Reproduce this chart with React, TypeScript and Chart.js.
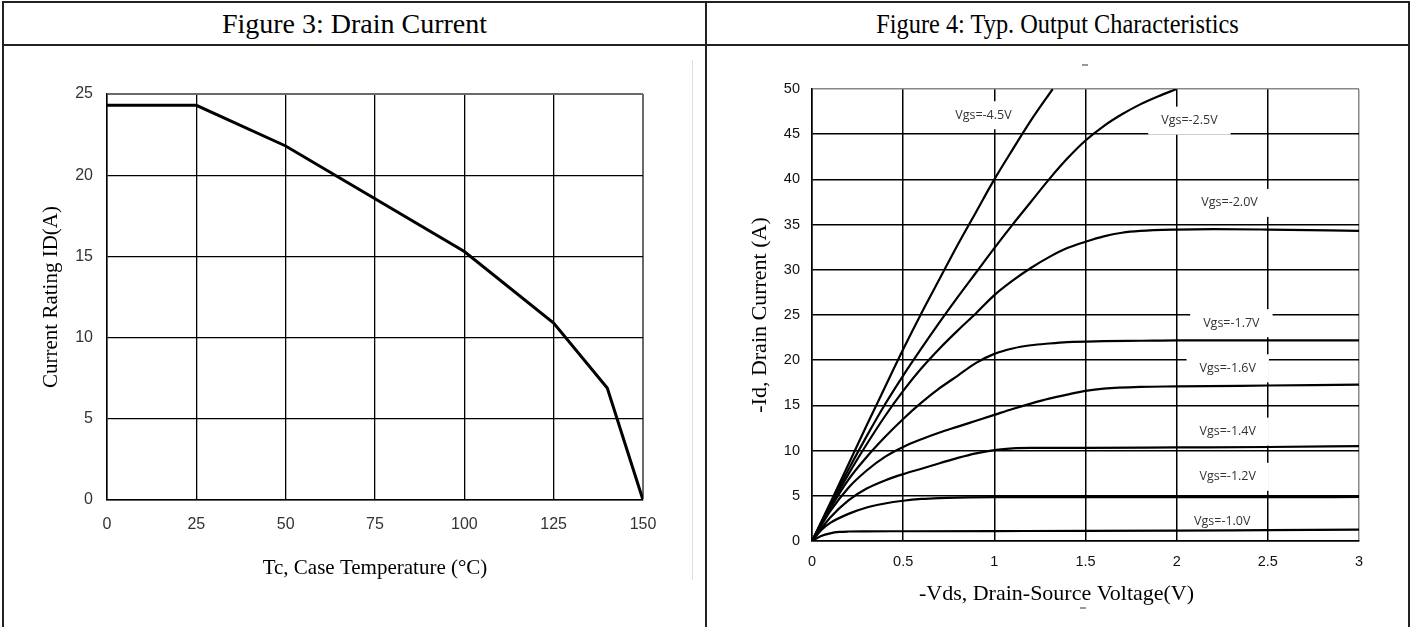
import React, { useEffect, useRef } from 'react';
import { Chart, registerables } from 'chart.js';

Chart.register(...registerables);

// ---------- Figure 3: Drain Current ----------
const caseTempC = [0, 25, 50, 100, 125, 140, 150];
const currentRatingA = [24.3, 24.3, 21.8, 15.3, 10.9, 6.9, 0];

// ---------- Figure 4: Typ. Output Characteristics ----------
const vds45 = [0, 0.1, 0.2, 0.3, 0.4, 0.5, 0.6, 0.7, 0.8, 0.9, 1.0, 1.1, 1.2, 1.32];
const id45 = [0, 4.2, 8.5, 12.8, 17.0, 21.2, 25.2, 29.0, 32.8, 36.4, 40.0, 43.3, 46.5, 50.0];

const vds25 = [0, 0.1, 0.2, 0.3, 0.4, 0.5, 0.6, 0.7, 0.8, 0.9, 1.0, 1.1, 1.2, 1.3, 1.4, 1.5, 1.6, 1.7, 1.8, 1.9, 2.0];
const id25 = [0, 4.0, 7.9, 11.6, 15.1, 18.3, 21.3, 24.2, 27.0, 29.7, 32.4, 35.0, 37.5, 40.0, 42.3, 44.3, 45.9, 47.2, 48.3, 49.2, 50.0];

const vds20 = [0, 0.1, 0.2, 0.3, 0.4, 0.5, 0.6, 0.7, 0.8, 0.9, 1.0, 1.1, 1.2, 1.3, 1.4, 1.5, 1.6, 1.7, 1.8, 2.0, 2.2, 2.5, 3.0];
const id20 = [0, 3.8, 7.4, 10.7, 13.8, 16.6, 19.1, 21.3, 23.3, 25.2, 27.2, 28.8, 30.2, 31.4, 32.4, 33.1, 33.7, 34.1, 34.3, 34.45, 34.5, 34.45, 34.3];

const vds17 = [0, 0.1, 0.2, 0.3, 0.4, 0.5, 0.6, 0.7, 0.8, 0.9, 1.0, 1.1, 1.2, 1.3, 1.4, 1.6, 1.8, 2.0, 2.5, 3.0];
const id17 = [0, 3.6, 6.8, 9.3, 11.5, 13.5, 15.3, 16.9, 18.3, 19.7, 20.7, 21.3, 21.65, 21.85, 22.0, 22.1, 22.15, 22.2, 22.2, 22.2];

const vds16 = [0, 0.1, 0.2, 0.3, 0.4, 0.5, 0.6, 0.7, 0.8, 0.9, 1.0, 1.1, 1.2, 1.3, 1.4, 1.5, 1.6, 1.8, 2.0, 2.5, 3.0];
const id16 = [0, 3.3, 5.9, 7.8, 9.3, 10.4, 11.25, 12.0, 12.65, 13.3, 13.95, 14.6, 15.2, 15.75, 16.2, 16.6, 16.85, 17.05, 17.1, 17.2, 17.3];

const vds14 = [0, 0.1, 0.2, 0.3, 0.4, 0.5, 0.6, 0.7, 0.8, 0.9, 1.0, 1.1, 1.2, 1.5, 2.0, 2.5, 3.0];
const id14 = [0, 2.6, 4.5, 5.8, 6.7, 7.4, 8.0, 8.6, 9.2, 9.7, 10.05, 10.25, 10.3, 10.3, 10.35, 10.4, 10.5];

const vds12 = [0, 0.05, 0.1, 0.2, 0.3, 0.4, 0.5, 0.6, 0.7, 0.8, 1.0, 1.5, 2.0, 2.5, 3.0];
const id12 = [0, 1.2, 2.0, 3.0, 3.7, 4.15, 4.45, 4.65, 4.75, 4.8, 4.85, 4.85, 4.85, 4.85, 4.87];

const vds10 = [0, 0.05, 0.1, 0.15, 0.2, 0.3, 0.5, 1.0, 1.5, 2.0, 2.5, 3.0];
const id10 = [0, 0.55, 0.85, 1.0, 1.05, 1.07, 1.08, 1.1, 1.12, 1.15, 1.2, 1.25];

const vgsLabels = ['Vgs=-4.5V', 'Vgs=-2.5V', 'Vgs=-2.0V', 'Vgs=-1.7V', 'Vgs=-1.6V', 'Vgs=-1.4V', 'Vgs=-1.2V', 'Vgs=-1.0V'];
const vgsLabelVds = [0.94, 2.07, 2.29, 2.30, 2.28, 2.28, 2.28, 2.25];
const vgsLabelId = [47.1, 46.5, 37.4, 24.1, 19.1, 12.1, 7.1, 2.2];

const FONT_SANS = '"Liberation Sans", Arial, Helvetica, sans-serif';
const FONT_SERIF = '"Liberation Serif", "Times New Roman", Times, serif';
const FONT_LABEL = '"Open Sans", "Noto Sans", sans-serif';

const pts = (xs: number[], ys: number[]) => xs.map((x, i) => ({ x, y: ys[i] }));

function DrainCurrentChart() {
  const ref = useRef<HTMLCanvasElement>(null);
  useEffect(() => {
    const chart = new Chart(ref.current as HTMLCanvasElement, {
      type: 'line',
      data: {
        datasets: [
          {
            data: pts(caseTempC, currentRatingA),
            borderColor: '#000',
            borderWidth: 3,
            pointRadius: 0,
            tension: 0,
          },
        ],
      },
      options: {
        responsive: false,
        animation: false,
        events: [],
        layout: { padding: { top: 47, right: 60, left: 0, bottom: 0 } },
        plugins: { legend: { display: false }, tooltip: { enabled: false } },
        scales: {
          x: {
            type: 'linear',
            min: 0,
            max: 150,
            ticks: { stepSize: 25, padding: 15, color: '#333', font: { family: FONT_SANS, size: 16 } },
            grid: {
              drawTicks: false,
              color: (c: any) => (c.tick && c.tick.value === 150 ? '#6a6a6a' : '#000'),
              lineWidth: (c: any) => (c.tick && c.tick.value === 150 ? 2 : 1.3),
            },
            border: { color: '#000', width: 1.5 },
            title: {
              display: true,
              text: 'Tc, Case Temperature (°C)',
              color: '#000',
              font: { family: FONT_SERIF, size: 21 },
              padding: { top: 0, bottom: 44 },
            },
            afterFit: (s: any) => {
              s.height = 125;
            },
          },
          y: {
            type: 'linear',
            min: 0,
            max: 25,
            ticks: { stepSize: 5, padding: 14, color: '#333', font: { family: FONT_SANS, size: 16 } },
            grid: {
              drawTicks: false,
              color: (c: any) => (c.tick && c.tick.value === 25 ? '#6a6a6a' : '#000'),
              lineWidth: (c: any) => (c.tick && c.tick.value === 25 ? 2 : 1.3),
            },
            border: { color: '#000', width: 1.5 },
            title: {
              display: true,
              text: 'Current Rating ID(A)',
              color: '#000',
              font: { family: FONT_SERIF, size: 21 },
              padding: { top: 34, bottom: 0 },
            },
            afterFit: (s: any) => {
              s.width = 102;
            },
          },
        },
      },
    } as any);
    return () => chart.destroy();
  }, []);
  return (
    <canvas
      ref={ref}
      width={698}
      height={578}
      style={{ position: 'absolute', left: 5, top: 47, width: 698, height: 578 }}
    />
  );
}

const vgsLabelPlugin = {
  id: 'vgsLabels',
  beforeDatasetsDraw(chart: any) {
    const { ctx, scales } = chart;
    const xs = scales.x;
    const ys = scales.y;
    ctx.save();
    ctx.font = `12.5px ${FONT_LABEL}`;
    ctx.textAlign = 'center';
    ctx.textBaseline = 'middle';
    vgsLabels.forEach((t, i) => {
      const px = xs.getPixelForValue(vgsLabelVds[i]);
      const py = ys.getPixelForValue(vgsLabelId[i]);
      const w = ctx.measureText(t).width;
      ctx.fillStyle = '#fff';
      ctx.fillRect(px - w / 2 - 13, py - 14, w + 26, 28);
      ctx.fillStyle = '#333';
      ctx.fillText(t, px, py);
    });
    ctx.restore();
  },
};

const vdsTitlePlugin = {
  id: 'vdsTitle',
  afterDraw(chart: any) {
    const { ctx, chartArea } = chart;
    ctx.save();
    ctx.font = `22px ${FONT_SERIF}`;
    ctx.fillStyle = '#000';
    ctx.textAlign = 'center';
    ctx.textBaseline = 'middle';
    ctx.fillText('-Vds, Drain-Source Voltage(V)', (chartArea.left + chartArea.right) / 2 - 29, chartArea.bottom + 53);
    ctx.restore();
  },
};

function OutputCharChart() {
  const ref = useRef<HTMLCanvasElement>(null);
  useEffect(() => {
    const mk = (xs: number[], ys: number[]) => ({
      data: pts(xs, ys),
      borderColor: '#000',
      borderWidth: 2.2,
      pointRadius: 0,
      cubicInterpolationMode: 'monotone',
    });
    const chart = new Chart(ref.current as HTMLCanvasElement, {
      type: 'line',
      data: {
        datasets: [
          mk(vds45, id45),
          mk(vds25, id25),
          mk(vds20, id20),
          mk(vds17, id17),
          mk(vds16, id16),
          mk(vds14, id14),
          mk(vds12, id12),
          mk(vds10, id10),
        ],
      },
      options: {
        responsive: false,
        animation: false,
        events: [],
        layout: { padding: { top: 42, right: 48, left: 0, bottom: 0 } },
        plugins: { legend: { display: false }, tooltip: { enabled: false } },
        scales: {
          x: {
            type: 'linear',
            min: 0,
            max: 3,
            ticks: {
              stepSize: 0.5,
              padding: 12,
              color: '#111',
              font: { family: FONT_SANS, size: 14.5 },
              callback: (v: any) => String(Number(v)),
            },
            grid: {
              drawTicks: false,
              color: (c: any) => (c.tick && c.tick.value === 3 ? '#888' : '#000'),
              lineWidth: 1.5,
            },
            border: { color: '#000', width: 1.5 },
            title: { display: false },
            afterFit: (s: any) => {
              s.height = 84;
            },
          },
          y: {
            type: 'linear',
            min: 0,
            max: 50,
            ticks: { stepSize: 5, padding: 12, color: '#111', font: { family: FONT_SANS, size: 14.5 } },
            grid: {
              drawTicks: false,
              color: (c: any) => (c.tick && c.tick.value === 50 ? '#888' : '#000'),
              lineWidth: 1.5,
            },
            border: { color: '#000', width: 1.5 },
            title: {
              display: true,
              text: '-Id, Drain Current (A)',
              color: '#000',
              font: { family: FONT_SERIF, size: 22 },
              padding: { top: 40, bottom: 0 },
            },
            afterFit: (s: any) => {
              s.width = 105;
            },
          },
        },
      },
      plugins: [vgsLabelPlugin, vdsTitlePlugin],
    } as any);
    return () => chart.destroy();
  }, []);
  return (
    <canvas
      ref={ref}
      width={700}
      height={578}
      style={{ position: 'absolute', left: 707, top: 47, width: 700, height: 578 }}
    />
  );
}

export default function App() {
  const line = (s: React.CSSProperties) => <div style={{ position: 'absolute', background: '#222', ...s }} />;
  const titleStyle: React.CSSProperties = {
    position: 'absolute',
    top: 3,
    height: 42,
    lineHeight: '42px',
    textAlign: 'center',
    fontFamily: FONT_SERIF,
    fontSize: 28,
    color: '#000',
    whiteSpace: 'nowrap',
  };
  return (
    <div
      style={{
        position: 'absolute',
        left: 0,
        top: 0,
        width: 1413,
        height: 627,
        background: '#fff',
        overflow: 'hidden',
      }}
    >
      {line({ left: 2, top: 1, width: 1408, height: 2 })}
      {line({ left: 2, top: 44, width: 1408, height: 2 })}
      {line({ left: 2, top: 1, width: 2, height: 626 })}
      {line({ left: 705, top: 1, width: 2, height: 626 })}
      {line({ left: 1408, top: 1, width: 2, height: 626 })}
      <div style={{ ...titleStyle, left: 4, width: 701 }}>Figure 3: Drain Current</div>
      <div style={{ ...titleStyle, left: 707, width: 701, transform: 'scaleX(0.87)' }}>
        Figure 4: Typ. Output Characteristics
      </div>
      <div style={{ position: 'absolute', left: 692, top: 60, width: 1, height: 520, background: '#d6e6d6' }} />
      <DrainCurrentChart />
      <OutputCharChart />
      <div style={{ position: 'absolute', left: 1082, top: 64, width: 6, height: 2, background: '#999' }} />
      <div style={{ position: 'absolute', left: 1080, top: 607, width: 6, height: 2, background: '#999' }} />
    </div>
  );
}
